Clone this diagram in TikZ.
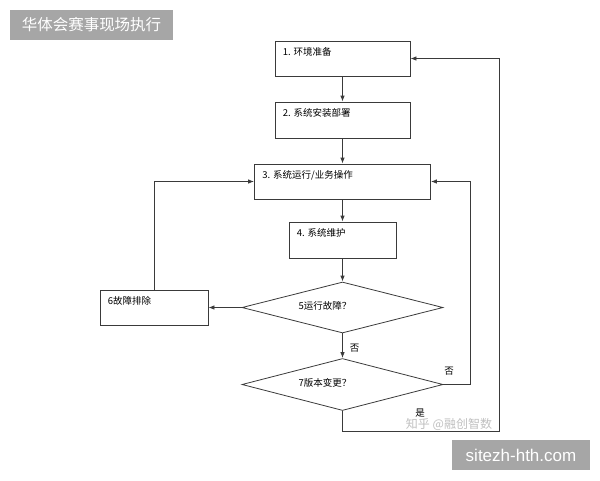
\documentclass[tikz,border=0pt]{standalone}
\usepackage{fontspec}
\newfontfamily\cjk{Noto Sans CJK SC}
\newfontfamily\latinsans{Liberation Sans}
\usetikzlibrary{arrows.meta,shapes.geometric}
\definecolor{linec}{HTML}{3A3A3A}
\definecolor{tagbg}{HTML}{A6A6A6}
\begin{document}
\begin{tikzpicture}[x=1pt,y=-1pt,
  box/.style={draw=linec,line width=0.8pt,inner sep=0pt},
  tag/.style={label={[anchor=west,xshift=8pt,yshift=-11.5pt,inner sep=0pt,font=\cjk\fontsize{9.5}{11}\selectfont]north west:#1}},
  dec/.style={draw=linec,line width=0.8pt,diamond,inner sep=0pt,aspect=3.9},
  txt/.style={inner sep=0pt,font=\cjk\fontsize{9.5}{11}\selectfont},
  flow/.style={draw=linec,line width=0.8pt,-{Latex[length=6pt,width=4.5pt]}}]
\useasboundingbox (0,0) rectangle (600,480);

\node[fill=tagbg,minimum width=163pt,minimum height=30pt,inner sep=0pt,text=white,font=\cjk\fontsize{15.5}{18}\selectfont] (title) at (91.5,25) {华体会赛事现场执行};

\node[box,minimum width=135pt,minimum height=35pt,tag={1. 环境准备}] (b1) at (342.5,58.5) {};
\node[box,minimum width=135pt,minimum height=36pt,tag={2. 系统安装部署}] (b2) at (342.5,120) {};
\node[box,minimum width=176pt,minimum height=35pt,tag={3. 系统运行/业务操作}] (b3) at (342.5,181.5) {};
\node[box,minimum width=107pt,minimum height=36pt,tag={4. 系统维护}] (b4) at (342.5,240) {};
\node[dec,minimum width=201pt,minimum height=51pt] (d5) at (342.5,307.5) {};
\node[txt] (t5) at (325,306) {5运行故障？};
\node[box,minimum width=108pt,minimum height=35pt,tag={6故障排除}] (b6) at (154,307.5) {};
\node[dec,minimum width=201pt,minimum height=52pt] (d7) at (342.5,384.5) {};
\node[txt] (t7) at (325,383) {7版本变更？};

\coordinate (r1) at (470,181.5);
\coordinate (r2) at (499,431);

\draw[flow] (b1) -- (b2);
\draw[flow] (b2) -- (b3);
\draw[flow] (b3) -- (b4);
\draw[flow] (b4) -- (d5);
\draw[flow] (d5) -- (b6);
\draw[flow] (b6.north) |- (b3.west);
\draw[flow] (d5) -- node[txt,right,xshift=7pt,yshift=-2pt] (no1) {否} (d7);
\draw[flow] (d7.east) -| (r1) -- (b3.east);
\node[txt] (no2) at (449,371) {否};
\draw[flow] (d7.south) |- (r2) |- (b1.east);
\node[txt] (yes) at (420,413) {是};

\node[inner sep=0pt,text=black!25,font=\cjk\fontsize{12}{14}\selectfont] (mark) at (449,424) {知乎 @融创智数};

\node[fill=tagbg,minimum width=138pt,minimum height=30pt,inner sep=0pt,text=white,font=\latinsans\fontsize{17}{20}\selectfont] (site) at (521,455) {sitezh-hth.com};
\end{tikzpicture}
\end{document}
